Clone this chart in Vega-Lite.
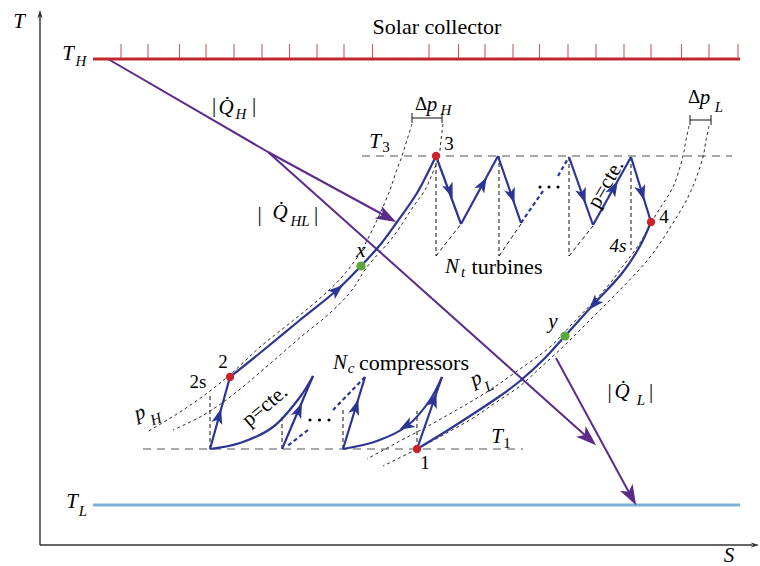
{
  "$schema": "https://vega.github.io/schema/vega-lite/v6.json",
  "width": 760,
  "height": 566,
  "autosize": {"type": "none"},
  "padding": 0,
  "background": "white",
  "config": {"view": {"stroke": null}},
  "datasets": {
    "paths": [
      {"g": "yax", "k": "axis", "s": 40, "t": 545}, {"g": "yax", "k": "axis", "s": 40, "t": 16},
      {"g": "xax", "k": "axis", "s": 40, "t": 545}, {"g": "xax", "k": "axis", "s": 752, "t": 545},
      {"g": "col", "k": "collector", "s": 93, "t": 59}, {"g": "col", "k": "collector", "s": 740, "t": 59},
      {"g": "snk", "k": "sink", "s": 93, "t": 505}, {"g": "snk", "k": "sink", "s": 740, "t": 505},
      {"g": "qh", "k": "heat", "s": 108, "t": 59}, {"g": "qh", "k": "heat", "s": 268, "t": 152},
      {"g": "qhl", "k": "heat", "s": 268, "t": 152}, {"g": "qhl", "k": "heat", "s": 391, "t": 219},
      {"g": "qloss", "k": "heat", "s": 268, "t": 152}, {"g": "qloss", "k": "heat", "s": 591.5, "t": 441},
      {"g": "ql", "k": "heat", "s": 556, "t": 358}, {"g": "ql", "k": "heat", "s": 633, "t": 499.7},
      {"g": "T3", "k": "isotherm", "s": 362, "t": 156}, {"g": "T3", "k": "isotherm", "s": 732, "t": 156},
      {"g": "T1", "k": "isotherm", "s": 143, "t": 449}, {"g": "T1", "k": "isotherm", "s": 523, "t": 449},
      {"g": "pHa", "k": "isobar", "s": 412, "t": 124}, {"g": "pHa", "k": "isobar", "s": 407, "t": 140},
      {"g": "pHa", "k": "isobar", "s": 402, "t": 156}, {"g": "pHa", "k": "isobar", "s": 396, "t": 172},
      {"g": "pHa", "k": "isobar", "s": 390, "t": 190}, {"g": "pHa", "k": "isobar", "s": 377, "t": 220},
      {"g": "pHa", "k": "isobar", "s": 360, "t": 253}, {"g": "pHa", "k": "isobar", "s": 341, "t": 278},
      {"g": "pHa", "k": "isobar", "s": 318, "t": 300}, {"g": "pHa", "k": "isobar", "s": 290, "t": 323},
      {"g": "pHa", "k": "isobar", "s": 260, "t": 347}, {"g": "pHa", "k": "isobar", "s": 233, "t": 372},
      {"g": "pHa", "k": "isobar", "s": 210, "t": 391}, {"g": "pHa", "k": "isobar", "s": 180, "t": 412},
      {"g": "pHa", "k": "isobar", "s": 147, "t": 432},
      {"g": "pHb", "k": "isobar", "s": 443, "t": 124}, {"g": "pHb", "k": "isobar", "s": 441, "t": 140},
      {"g": "pHb", "k": "isobar", "s": 439, "t": 156}, {"g": "pHb", "k": "isobar", "s": 433, "t": 172},
      {"g": "pHb", "k": "isobar", "s": 425, "t": 190}, {"g": "pHb", "k": "isobar", "s": 413, "t": 207},
      {"g": "pHb", "k": "isobar", "s": 393, "t": 237}, {"g": "pHb", "k": "isobar", "s": 367, "t": 267},
      {"g": "pHb", "k": "isobar", "s": 352, "t": 290}, {"g": "pHb", "k": "isobar", "s": 330, "t": 313},
      {"g": "pHb", "k": "isobar", "s": 302, "t": 336}, {"g": "pHb", "k": "isobar", "s": 272, "t": 362},
      {"g": "pHb", "k": "isobar", "s": 245, "t": 385}, {"g": "pHb", "k": "isobar", "s": 222, "t": 403},
      {"g": "pHb", "k": "isobar", "s": 200, "t": 417}, {"g": "pHb", "k": "isobar", "s": 173, "t": 430},
      {"g": "pLa", "k": "isobar", "s": 689, "t": 126}, {"g": "pLa", "k": "isobar", "s": 686, "t": 140},
      {"g": "pLa", "k": "isobar", "s": 683, "t": 156}, {"g": "pLa", "k": "isobar", "s": 673, "t": 187},
      {"g": "pLa", "k": "isobar", "s": 657, "t": 213}, {"g": "pLa", "k": "isobar", "s": 640, "t": 243},
      {"g": "pLa", "k": "isobar", "s": 623, "t": 266}, {"g": "pLa", "k": "isobar", "s": 607, "t": 287},
      {"g": "pLa", "k": "isobar", "s": 573, "t": 323}, {"g": "pLa", "k": "isobar", "s": 550, "t": 347},
      {"g": "pLa", "k": "isobar", "s": 520, "t": 369}, {"g": "pLa", "k": "isobar", "s": 490, "t": 390},
      {"g": "pLa", "k": "isobar", "s": 460, "t": 408}, {"g": "pLa", "k": "isobar", "s": 430, "t": 425},
      {"g": "pLa", "k": "isobar", "s": 400, "t": 441}, {"g": "pLa", "k": "isobar", "s": 367, "t": 459},
      {"g": "pLb", "k": "isobar", "s": 709, "t": 126}, {"g": "pLb", "k": "isobar", "s": 706, "t": 140},
      {"g": "pLb", "k": "isobar", "s": 703, "t": 157}, {"g": "pLb", "k": "isobar", "s": 690, "t": 193},
      {"g": "pLb", "k": "isobar", "s": 673, "t": 223}, {"g": "pLb", "k": "isobar", "s": 650, "t": 257},
      {"g": "pLb", "k": "isobar", "s": 617, "t": 293}, {"g": "pLb", "k": "isobar", "s": 590, "t": 320},
      {"g": "pLb", "k": "isobar", "s": 565, "t": 345}, {"g": "pLb", "k": "isobar", "s": 540, "t": 368},
      {"g": "pLb", "k": "isobar", "s": 520, "t": 386}, {"g": "pLb", "k": "isobar", "s": 495, "t": 403},
      {"g": "pLb", "k": "isobar", "s": 473, "t": 418}, {"g": "pLb", "k": "isobar", "s": 445, "t": 434},
      {"g": "pLb", "k": "isobar", "s": 417, "t": 449}, {"g": "pLb", "k": "isobar", "s": 383, "t": 466},
      {"g": "v1", "k": "isentrope", "s": 436, "t": 156}, {"g": "v1", "k": "isentrope", "s": 436, "t": 256},
      {"g": "v2", "k": "isentrope", "s": 499, "t": 156}, {"g": "v2", "k": "isentrope", "s": 499, "t": 256},
      {"g": "v3", "k": "isentrope", "s": 569, "t": 157}, {"g": "v3", "k": "isentrope", "s": 569, "t": 256},
      {"g": "v4", "k": "isentrope", "s": 631, "t": 157}, {"g": "v4", "k": "isentrope", "s": 631, "t": 250},
      {"g": "d1", "k": "isentrope", "s": 436, "t": 256}, {"g": "d1", "k": "isentrope", "s": 461, "t": 224},
      {"g": "d2", "k": "isentrope", "s": 499, "t": 256}, {"g": "d2", "k": "isentrope", "s": 521, "t": 224},
      {"g": "d3", "k": "isentrope", "s": 569, "t": 256}, {"g": "d3", "k": "isentrope", "s": 593, "t": 226},
      {"g": "w1", "k": "isentrope", "s": 210, "t": 449}, {"g": "w1", "k": "isentrope", "s": 210, "t": 393},
      {"g": "w2", "k": "isentrope", "s": 282, "t": 449}, {"g": "w2", "k": "isentrope", "s": 282, "t": 416},
      {"g": "w3", "k": "isentrope", "s": 343, "t": 449}, {"g": "w3", "k": "isentrope", "s": 343, "t": 410},
      {"g": "w4", "k": "isentrope", "s": 417, "t": 449}, {"g": "w4", "k": "isentrope", "s": 417, "t": 411},
      {"g": "bH", "k": "bracket", "s": 412, "t": 118}, {"g": "bH", "k": "bracket", "s": 442, "t": 118},
      {"g": "bHl", "k": "bracket", "s": 412, "t": 113}, {"g": "bHl", "k": "bracket", "s": 412, "t": 123},
      {"g": "bHr", "k": "bracket", "s": 442, "t": 113}, {"g": "bHr", "k": "bracket", "s": 442, "t": 123},
      {"g": "bL", "k": "bracket", "s": 690, "t": 120}, {"g": "bL", "k": "bracket", "s": 711, "t": 120},
      {"g": "bLl", "k": "bracket", "s": 690, "t": 115}, {"g": "bLl", "k": "bracket", "s": 690, "t": 125},
      {"g": "bLr", "k": "bracket", "s": 711, "t": 115}, {"g": "bLr", "k": "bracket", "s": 711, "t": 125},
      {"g": "c23", "k": "cycle", "s": 230, "t": 377}, {"g": "c23", "k": "cycle", "s": 260, "t": 353},
      {"g": "c23", "k": "cycle", "s": 300, "t": 320}, {"g": "c23", "k": "cycle", "s": 337, "t": 290},
      {"g": "c23", "k": "cycle", "s": 361, "t": 266}, {"g": "c23", "k": "cycle", "s": 380, "t": 245},
      {"g": "c23", "k": "cycle", "s": 397, "t": 222}, {"g": "c23", "k": "cycle", "s": 417, "t": 193},
      {"g": "c23", "k": "cycle", "s": 436, "t": 156},
      {"g": "c41", "k": "cycle", "s": 651, "t": 222}, {"g": "c41", "k": "cycle", "s": 640, "t": 246},
      {"g": "c41", "k": "cycle", "s": 623, "t": 272}, {"g": "c41", "k": "cycle", "s": 593, "t": 305},
      {"g": "c41", "k": "cycle", "s": 565, "t": 336}, {"g": "c41", "k": "cycle", "s": 545, "t": 358},
      {"g": "c41", "k": "cycle", "s": 520, "t": 381}, {"g": "c41", "k": "cycle", "s": 500, "t": 396},
      {"g": "c41", "k": "cycle", "s": 473, "t": 414}, {"g": "c41", "k": "cycle", "s": 445, "t": 432},
      {"g": "c41", "k": "cycle", "s": 417, "t": 449},
      {"g": "t1d", "k": "cycle", "s": 436, "t": 156}, {"g": "t1d", "k": "cycle", "s": 461, "t": 224},
      {"g": "t1r", "k": "cycle", "s": 461, "t": 224}, {"g": "t1r", "k": "cycle", "s": 498, "t": 156},
      {"g": "t2d", "k": "cycle", "s": 498, "t": 156}, {"g": "t2d", "k": "cycle", "s": 521, "t": 223},
      {"g": "tNd", "k": "cycle", "s": 569, "t": 157}, {"g": "tNd", "k": "cycle", "s": 593, "t": 225},
      {"g": "tNr", "k": "cycle", "s": 593, "t": 225}, {"g": "tNr", "k": "cycle", "s": 631, "t": 157},
      {"g": "tLd", "k": "cycle", "s": 631, "t": 157}, {"g": "tLd", "k": "cycle", "s": 651, "t": 222},
      {"g": "k1", "k": "cycle", "s": 417, "t": 449}, {"g": "k1", "k": "cycle", "s": 442, "t": 377},
      {"g": "k1c", "k": "cycle", "s": 442, "t": 377}, {"g": "k1c", "k": "cycle", "s": 430, "t": 400},
      {"g": "k1c", "k": "cycle", "s": 407, "t": 426}, {"g": "k1c", "k": "cycle", "s": 377, "t": 441},
      {"g": "k1c", "k": "cycle", "s": 343, "t": 449},
      {"g": "k2", "k": "cycle", "s": 343, "t": 449}, {"g": "k2", "k": "cycle", "s": 365, "t": 377},
      {"g": "kNm", "k": "cycle", "s": 282, "t": 449}, {"g": "kNm", "k": "cycle", "s": 313, "t": 376},
      {"g": "kNc", "k": "cycle", "s": 313, "t": 376}, {"g": "kNc", "k": "cycle", "s": 300, "t": 397},
      {"g": "kNc", "k": "cycle", "s": 273, "t": 427}, {"g": "kNc", "k": "cycle", "s": 240, "t": 443},
      {"g": "kNc", "k": "cycle", "s": 210, "t": 449},
      {"g": "kN", "k": "cycle", "s": 210, "t": 449}, {"g": "kN", "k": "cycle", "s": 230, "t": 377},
      {"g": "om1", "k": "omitted", "s": 521, "t": 223}, {"g": "om1", "k": "omitted", "s": 543, "t": 191},
      {"g": "om2", "k": "omitted", "s": 558, "t": 176}, {"g": "om2", "k": "omitted", "s": 569, "t": 157},
      {"g": "om3", "k": "omitted", "s": 365, "t": 377}, {"g": "om3", "k": "omitted", "s": 333, "t": 410},
      {"g": "om4", "k": "omitted", "s": 308, "t": 430}, {"g": "om4", "k": "omitted", "s": 286, "t": 447}
    ],
    "ticks": [
      {"s": 121, "t": 44, "t2": 59}, {"s": 148, "t": 44, "t2": 59}, {"s": 179.5, "t": 44, "t2": 59},
      {"s": 206, "t": 44, "t2": 59}, {"s": 234, "t": 44, "t2": 59}, {"s": 262, "t": 44, "t2": 59},
      {"s": 289.5, "t": 44, "t2": 59}, {"s": 317, "t": 44, "t2": 59}, {"s": 344, "t": 44, "t2": 59},
      {"s": 372.5, "t": 44, "t2": 59}, {"s": 429, "t": 44, "t2": 59}, {"s": 458.5, "t": 44, "t2": 59},
      {"s": 485, "t": 44, "t2": 59}, {"s": 513, "t": 44, "t2": 59}, {"s": 539.5, "t": 44, "t2": 59},
      {"s": 568, "t": 44, "t2": 59}, {"s": 596, "t": 44, "t2": 59}, {"s": 624, "t": 44, "t2": 59},
      {"s": 651, "t": 44, "t2": 59}, {"s": 681.5, "t": 44, "t2": 59}, {"s": 709, "t": 44, "t2": 59},
      {"s": 738, "t": 44, "t2": 59}
    ],
    "arrows": [
      {"k": "axis", "s": 40, "t": 14, "a": -90},
      {"k": "axis", "s": 755, "t": 545, "a": 0},
      {"k": "heat", "s": 387.2, "t": 217.2, "a": 28.7},
      {"k": "heat", "s": 588.5, "t": 438.3, "a": 41.8},
      {"k": "heat", "s": 631.2, "t": 496.2, "a": 61.4},
      {"k": "cycle", "s": 450, "t": 191, "a": 70},
      {"k": "cycle", "s": 483, "t": 184, "a": -61},
      {"k": "cycle", "s": 512, "t": 196, "a": 71},
      {"k": "cycle", "s": 583, "t": 196, "a": 71},
      {"k": "cycle", "s": 614, "t": 188, "a": -61},
      {"k": "cycle", "s": 642, "t": 193, "a": 73},
      {"k": "cycle", "s": 337, "t": 290, "a": -41},
      {"k": "cycle", "s": 594, "t": 304, "a": 132},
      {"k": "cycle", "s": 434, "t": 400, "a": -71},
      {"k": "cycle", "s": 406, "t": 426, "a": 150},
      {"k": "cycle", "s": 356, "t": 407, "a": -73},
      {"k": "cycle", "s": 299, "t": 410, "a": -67},
      {"k": "cycle", "s": 219, "t": 416, "a": -74}
    ],
    "states": [
      {"name": "1", "kind": "end", "s": 417, "t": 449},
      {"name": "2", "kind": "end", "s": 230, "t": 377},
      {"name": "3", "kind": "end", "s": 436, "t": 156},
      {"name": "4", "kind": "end", "s": 651, "t": 222},
      {"name": "x", "kind": "mid", "s": 361, "t": 266},
      {"name": "y", "kind": "mid", "s": 565, "t": 336}
    ],
    "dots": [
      {"s": 540, "t": 187}, {"s": 549, "t": 187}, {"s": 558, "t": 187},
      {"s": 310, "t": 420}, {"s": 319.5, "t": 420}, {"s": 329, "t": 420}
    ],
    "labels": [
      {"id": "a1", "k": "var", "label": "T", "s": 19, "t": 22},
      {"id": "a2", "k": "var", "label": "T", "s": 68, "t": 54},
      {"id": "a3", "k": "var", "label": "T", "s": 72, "t": 502},
      {"id": "a4", "k": "var", "label": "S", "s": 729, "t": 556},
      {"id": "a5", "k": "var", "label": "T", "s": 375, "t": 142},
      {"id": "a6", "k": "var", "label": "x", "s": 361, "t": 251},
      {"id": "a7", "k": "var", "label": "N", "s": 452, "t": 267},
      {"id": "a8", "k": "var", "label": "y", "s": 553, "t": 322},
      {"id": "a9", "k": "var", "label": "N", "s": 340, "t": 363},
      {"id": "a10", "k": "var", "label": "T", "s": 497, "t": 437},
      {"id": "a11", "k": "var", "label": "Q̇", "s": 226, "t": 108},
      {"id": "a12", "k": "var", "label": "Q̇", "s": 280, "t": 213},
      {"id": "a13", "k": "var", "label": "Q̇", "s": 622, "t": 392},
      {"id": "a14", "k": "var", "label": "p", "s": 432, "t": 105},
      {"id": "a15", "k": "var", "label": "p", "s": 705, "t": 98},
      {"id": "b1", "k": "smallvar", "label": "4s", "s": 618, "t": 246},
      {"id": "c1", "k": "sub", "label": "H", "s": 81, "t": 61},
      {"id": "c2", "k": "sub", "label": "L", "s": 83, "t": 511},
      {"id": "c3", "k": "sub", "label": "t", "s": 463, "t": 272},
      {"id": "c4", "k": "sub", "label": "c", "s": 351, "t": 368},
      {"id": "c5", "k": "sub", "label": "H", "s": 241, "t": 114},
      {"id": "c6", "k": "sub", "label": "HL", "s": 300, "t": 221},
      {"id": "c7", "k": "sub", "label": "L", "s": 641, "t": 400},
      {"id": "c8", "k": "sub", "label": "H", "s": 446, "t": 110},
      {"id": "c9", "k": "sub", "label": "L", "s": 719, "t": 107},
      {"id": "d1", "k": "digitsub", "label": "3", "s": 386, "t": 147},
      {"id": "d2", "k": "digitsub", "label": "1", "s": 507, "t": 443},
      {"id": "e1", "k": "word", "label": "Solar collector", "s": 437, "t": 27},
      {"id": "e2", "k": "word", "label": "turbines", "s": 507, "t": 267},
      {"id": "e3", "k": "word", "label": "compressors", "s": 414, "t": 363},
      {"id": "f1", "k": "num", "label": "1", "s": 425, "t": 463},
      {"id": "f2", "k": "num", "label": "2", "s": 223, "t": 362},
      {"id": "f3", "k": "num", "label": "3", "s": 449, "t": 144},
      {"id": "f4", "k": "num", "label": "4", "s": 664, "t": 217},
      {"id": "f5", "k": "num", "label": "2s", "s": 198, "t": 382},
      {"id": "g1", "k": "bar", "label": "|", "s": 214, "t": 106},
      {"id": "g2", "k": "bar", "label": "|", "s": 254, "t": 106},
      {"id": "g3", "k": "bar", "label": "|", "s": 259.5, "t": 215},
      {"id": "g4", "k": "bar", "label": "|", "s": 316, "t": 215},
      {"id": "g5", "k": "bar", "label": "|", "s": 609.5, "t": 392},
      {"id": "g6", "k": "bar", "label": "|", "s": 651, "t": 392},
      {"id": "h1", "k": "delta", "label": "Δ", "s": 421, "t": 104},
      {"id": "h2", "k": "delta", "label": "Δ", "s": 694, "t": 97},
      {"id": "r1", "k": "rot", "label": "p=cte.", "s": 606, "t": 184},
      {"id": "r2", "k": "rot", "label": "p=cte.", "s": 265, "t": 406},
      {"id": "r3", "k": "rot", "label": "p", "s": 140, "t": 413},
      {"id": "r4", "k": "rot", "label": "H", "s": 156, "t": 419},
      {"id": "r5", "k": "rot", "label": "p", "s": 476, "t": 379},
      {"id": "r6", "k": "rot", "label": "L", "s": 489, "t": 386}
    ]
  },
  "encoding": {
    "x": {"field": "s", "type": "quantitative", "scale": {"domain": [0, 760], "nice": false, "zero": false}, "axis": null},
    "y": {"field": "t", "type": "quantitative", "scale": {"domain": [0, 566], "nice": false, "zero": false, "reverse": true}, "axis": null}
  },
  "layer": [
    {"data": {"name": "paths"}, "transform": [{"filter": "datum.k === 'isotherm'"}],
     "mark": {"type": "line", "color": "#555555", "strokeWidth": 1.1, "strokeDash": [8, 6]},
     "encoding": {"detail": {"field": "g"}, "order": {"value": null}}},
    {"data": {"name": "paths"}, "transform": [{"filter": "datum.k === 'isobar'"}],
     "mark": {"type": "line", "color": "#111111", "strokeWidth": 0.9, "strokeDash": [3, 3], "interpolate": "catmull-rom"},
     "encoding": {"detail": {"field": "g"}, "order": {"value": null}}},
    {"data": {"name": "paths"}, "transform": [{"filter": "datum.k === 'isentrope'"}],
     "mark": {"type": "line", "color": "#111111", "strokeWidth": 1, "strokeDash": [4, 3]},
     "encoding": {"detail": {"field": "g"}, "order": {"value": null}}},
    {"data": {"name": "paths"}, "transform": [{"filter": "datum.k === 'bracket'"}],
     "mark": {"type": "line", "color": "#111111", "strokeWidth": 1},
     "encoding": {"detail": {"field": "g"}, "order": {"value": null}}},
    {"data": {"name": "paths"}, "transform": [{"filter": "datum.k === 'heat'"}],
     "mark": {"type": "line", "color": "#5b2a8a", "strokeWidth": 2},
     "encoding": {"detail": {"field": "g"}, "order": {"value": null}}},
    {"data": {"name": "paths"}, "transform": [{"filter": "datum.k === 'cycle'"}],
     "mark": {"type": "line", "color": "#2c3594", "strokeWidth": 2.2, "interpolate": "catmull-rom"},
     "encoding": {"detail": {"field": "g"}, "order": {"value": null}}},
    {"data": {"name": "paths"}, "transform": [{"filter": "datum.k === 'omitted'"}],
     "mark": {"type": "line", "color": "#2c3594", "strokeWidth": 2.2, "strokeDash": [4, 3]},
     "encoding": {"detail": {"field": "g"}, "order": {"value": null}}},
    {"data": {"name": "ticks"},
     "mark": {"type": "rule", "color": "#d05a5a", "strokeWidth": 1.1},
     "encoding": {"y2": {"field": "t2"}}},
    {"data": {"name": "paths"}, "transform": [{"filter": "datum.k === 'collector'"}],
     "mark": {"type": "line", "color": "#c0282d", "strokeWidth": 3},
     "encoding": {"detail": {"field": "g"}, "order": {"value": null}}},
    {"data": {"name": "paths"}, "transform": [{"filter": "datum.k === 'sink'"}],
     "mark": {"type": "line", "color": "#7ab3d9", "strokeWidth": 3},
     "encoding": {"detail": {"field": "g"}, "order": {"value": null}}},
    {"data": {"name": "paths"}, "transform": [{"filter": "datum.k === 'axis'"}],
     "mark": {"type": "line", "color": "#333333", "strokeWidth": 1.4},
     "encoding": {"detail": {"field": "g"}, "order": {"value": null}}},
    {"data": {"name": "arrows"}, "transform": [{"filter": "datum.k === 'axis'"}],
     "mark": {"type": "point", "shape": "M1,0L-1,-0.62L-0.5,0L-1,0.62Z", "filled": true, "color": "#333333", "opacity": 1, "size": 70, "strokeWidth": 0},
     "encoding": {"angle": {"field": "a", "type": "quantitative", "scale": null}}},
    {"data": {"name": "arrows"}, "transform": [{"filter": "datum.k === 'heat'"}],
     "mark": {"type": "point", "shape": "M1,0L-1,-0.7L-0.5,0L-1,0.7Z", "filled": true, "color": "#5b2a8a", "opacity": 1, "size": 420, "strokeWidth": 0},
     "encoding": {"angle": {"field": "a", "type": "quantitative", "scale": null}}},
    {"data": {"name": "arrows"}, "transform": [{"filter": "datum.k === 'cycle'"}],
     "mark": {"type": "point", "shape": "M1,0L-1,-0.72L-0.5,0L-1,0.72Z", "filled": true, "color": "#2c3594", "opacity": 1, "size": 240, "strokeWidth": 0},
     "encoding": {"angle": {"field": "a", "type": "quantitative", "scale": null}}},
    {"data": {"name": "states"}, "transform": [{"filter": "datum.kind === 'end'"}],
     "mark": {"type": "circle", "color": "#cc2229", "opacity": 1, "size": 70}},
    {"data": {"name": "states"}, "transform": [{"filter": "datum.kind === 'mid'"}],
     "mark": {"type": "circle", "color": "#5aa83c", "opacity": 1, "size": 85}},
    {"data": {"name": "dots"},
     "mark": {"type": "circle", "color": "#000000", "opacity": 1, "size": 10}},
    {"data": {"name": "labels"}, "transform": [{"filter": "datum.k === 'var'"}],
     "mark": {"type": "text", "font": "Liberation Serif", "fontStyle": "italic", "fontSize": 21, "baseline": "middle", "align": "center", "color": "#000000"},
     "encoding": {"text": {"field": "label"}}},
    {"data": {"name": "labels"}, "transform": [{"filter": "datum.k === 'smallvar'"}],
     "mark": {"type": "text", "font": "Liberation Serif", "fontStyle": "italic", "fontSize": 19, "baseline": "middle", "align": "center", "color": "#000000"},
     "encoding": {"text": {"field": "label"}}},
    {"data": {"name": "labels"}, "transform": [{"filter": "datum.k === 'sub'"}],
     "mark": {"type": "text", "font": "Liberation Serif", "fontStyle": "italic", "fontSize": 15, "baseline": "middle", "align": "center", "color": "#000000"},
     "encoding": {"text": {"field": "label"}}},
    {"data": {"name": "labels"}, "transform": [{"filter": "datum.k === 'digitsub'"}],
     "mark": {"type": "text", "font": "Liberation Serif", "fontSize": 15, "baseline": "middle", "align": "center", "color": "#000000"},
     "encoding": {"text": {"field": "label"}}},
    {"data": {"name": "labels"}, "transform": [{"filter": "datum.k === 'word'"}],
     "mark": {"type": "text", "font": "Liberation Serif", "fontSize": 22, "baseline": "middle", "align": "center", "color": "#000000"},
     "encoding": {"text": {"field": "label"}}},
    {"data": {"name": "labels"}, "transform": [{"filter": "datum.k === 'num'"}],
     "mark": {"type": "text", "font": "Liberation Serif", "fontSize": 19, "baseline": "middle", "align": "center", "color": "#000000"},
     "encoding": {"text": {"field": "label"}}},
    {"data": {"name": "labels"}, "transform": [{"filter": "datum.k === 'bar'"}],
     "mark": {"type": "text", "font": "Liberation Serif", "fontSize": 21, "baseline": "middle", "align": "center", "color": "#000000"},
     "encoding": {"text": {"field": "label"}}},
    {"data": {"name": "labels"}, "transform": [{"filter": "datum.k === 'delta'"}],
     "mark": {"type": "text", "font": "Liberation Serif", "fontSize": 19, "baseline": "middle", "align": "center", "color": "#000000"},
     "encoding": {"text": {"field": "label"}}},
    {"data": {"name": "labels"}, "transform": [{"filter": "datum.id === 'r1'"}],
     "mark": {"type": "text", "font": "Liberation Serif", "fontSize": 21, "angle": -60, "baseline": "middle", "align": "center", "color": "#000000"},
     "encoding": {"text": {"field": "label"}}},
    {"data": {"name": "labels"}, "transform": [{"filter": "datum.id === 'r2'"}],
     "mark": {"type": "text", "font": "Liberation Serif", "fontSize": 21, "angle": -40, "baseline": "middle", "align": "center", "color": "#000000"},
     "encoding": {"text": {"field": "label"}}},
    {"data": {"name": "labels"}, "transform": [{"filter": "datum.id === 'r3'"}],
     "mark": {"type": "text", "font": "Liberation Serif", "fontStyle": "italic", "fontSize": 21, "angle": -20, "baseline": "middle", "align": "center", "color": "#000000"},
     "encoding": {"text": {"field": "label"}}},
    {"data": {"name": "labels"}, "transform": [{"filter": "datum.id === 'r4'"}],
     "mark": {"type": "text", "font": "Liberation Serif", "fontStyle": "italic", "fontSize": 15, "angle": -20, "baseline": "middle", "align": "center", "color": "#000000"},
     "encoding": {"text": {"field": "label"}}},
    {"data": {"name": "labels"}, "transform": [{"filter": "datum.id === 'r5'"}],
     "mark": {"type": "text", "font": "Liberation Serif", "fontStyle": "italic", "fontSize": 21, "angle": -26, "baseline": "middle", "align": "center", "color": "#000000"},
     "encoding": {"text": {"field": "label"}}},
    {"data": {"name": "labels"}, "transform": [{"filter": "datum.id === 'r6'"}],
     "mark": {"type": "text", "font": "Liberation Serif", "fontStyle": "italic", "fontSize": 15, "angle": -26, "baseline": "middle", "align": "center", "color": "#000000"},
     "encoding": {"text": {"field": "label"}}}
  ]
}
